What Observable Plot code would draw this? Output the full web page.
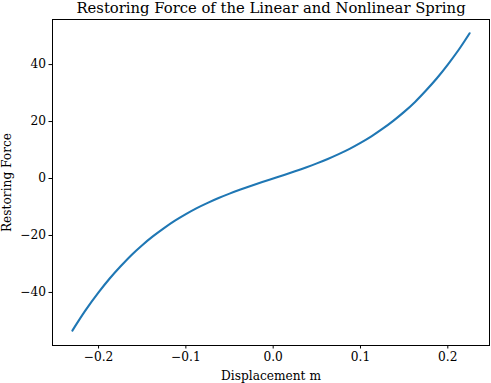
<!DOCTYPE html>
<html>
<head>
<meta charset="utf-8">
<script src="https://cdn.jsdelivr.net/npm/d3@7"></script>
<script src="https://cdn.jsdelivr.net/npm/@observablehq/plot@0.6"></script>
<style>
  html, body { margin: 0; padding: 0; background: #fff; }
  svg { font-family: "DejaVu Serif", serif; }
</style>
</head>
<body>
<div id="chart"></div>
<script>
const displacement = [-0.23, -0.215, -0.2, -0.1875, -0.175, -0.1625, -0.15, -0.1375, -0.125, -0.1125, -0.1, -0.0875, -0.075, -0.0625, -0.05, -0.0375, -0.025, -0.0125, 0, 0.0125, 0.025, 0.0375, 0.05, 0.0625, 0.075, 0.0875, 0.1, 0.1125, 0.125, 0.1375, 0.15, 0.1625, 0.175, 0.1875, 0.2, 0.2125, 0.225];
const force = [-53.4, -46.3, -40.0, -35.2, -30.9, -26.9, -23.4, -20.25, -17.4, -14.8, -12.5, -10.4, -8.55, -6.86, -5.31, -3.88, -2.54, -1.255, 0, 1.255, 2.54, 3.88, 5.31, 6.86, 8.55, 10.4, 12.5, 14.8, 17.4, 20.25, 23.4, 26.9, 30.9, 35.2, 40.0, 45.2, 51.0];
const xTicks = [-0.2, -0.1, 0.0, 0.1, 0.2];
const yTicks = [-40, -20, 0, 20, 40];
const titleText = "Restoring Force of the Linear and Nonlinear Spring";
const xLabel = "Displacement m";
const yLabel = "Restoring Force";

const data = displacement.map((x, i) => ({x, y: force[i]}));

const chart = Plot.plot({
  width: 491,
  height: 383,
  marginLeft: 52,
  marginRight: 2,
  marginTop: 19,
  marginBottom: 38,
  style: {fontFamily: "DejaVu Serif, serif", fontSize: "12.2px", color: "#000", background: "#fff"},
  x: {domain: [-0.25275, 0.24775], label: null},
  y: {domain: [-58.62, 55.82], label: null},
  marks: [
    Plot.axisX({ticks: xTicks, tickFormat: d3.format(".1f"), tickSize: 3.5, tickPadding: 3, fontSize: 12.2, stroke: "#000"}),
    Plot.axisY({ticks: yTicks, tickFormat: d3.format("d"), tickSize: 3.5, tickPadding: 3, fontSize: 12.2, stroke: "#000"}),
    Plot.line(data, {x: "x", y: "y", stroke: "#1f77b4", strokeWidth: 2.1, curve: "catmull-rom"}),
    Plot.frame({stroke: "#000", strokeWidth: 1}),
    Plot.text([titleText], {frameAnchor: "top", dy: -11, fontSize: 14.8, fill: "#000", lineAnchor: "middle"}),
    Plot.text([xLabel], {frameAnchor: "bottom", dy: 31, fontSize: 12.2, fill: "#000", lineAnchor: "middle"}),
    Plot.text([yLabel], {frameAnchor: "left", dx: -45, rotate: -90, textAnchor: "middle", lineAnchor: "middle", fontSize: 12.2, fill: "#000"})
  ]
});
document.getElementById("chart").appendChild(chart);
</script>
</body>
</html>
